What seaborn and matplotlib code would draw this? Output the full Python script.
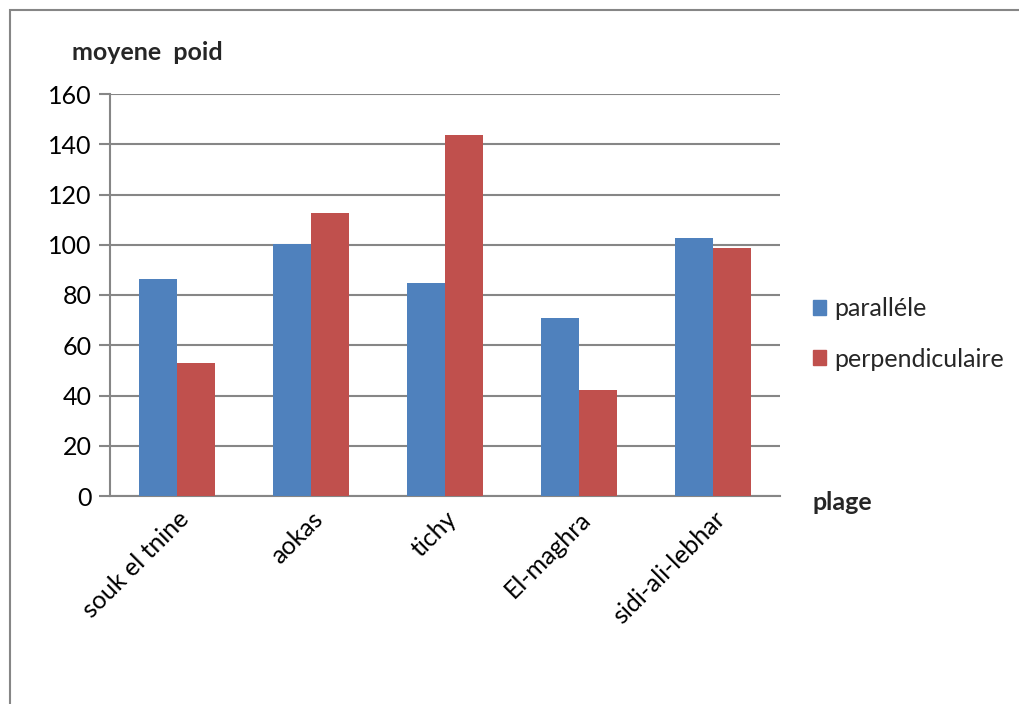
import matplotlib
matplotlib.use("Agg")
import matplotlib.pyplot as plt
import matplotlib.patches as mpatches
import seaborn as sns
import pandas as pd

plages = ["souk el tnine", "aokas", "tichy", "El-maghra", "sidi-ali-lebhar"]
parallele = [86.4, 100.2, 84.7, 70.8, 102.5]
perpendiculaire = [52.8, 112.6, 143.5, 42.0, 98.7]
series_names = ["paralléle", "perpendiculaire"]
y_ticks = [0, 20, 40, 60, 80, 100, 120, 140, 160]

df = pd.DataFrame({
    "plage": plages * 2,
    "serie": [series_names[0]] * len(plages) + [series_names[1]] * len(plages),
    "poid": parallele + perpendiculaire,
})

sns.set_theme(style="white")
plt.rcParams["font.family"] = ["Lato", "DejaVu Sans"]

grey = "#868686"
fs = 18
fig = plt.figure(figsize=(10.19, 7.04), dpi=100)
ax = fig.add_axes([110 / 1019, 1 - 496 / 704, 670 / 1019, 402 / 704])

sns.barplot(data=df, x="plage", y="poid", hue="serie", order=plages,
            hue_order=series_names, palette=["#4F81BD", "#C0504D"],
            width=0.57, saturation=1, ax=ax, legend=True, zorder=3)
for p in ax.patches:
    p.set_edgecolor("none")

ax.set_ylim(0, 160)
ax.set_yticks(y_ticks)
ax.set_xlim(-0.5, len(plages) - 0.5)
ax.yaxis.grid(True, color=grey, linewidth=1.5)
ax.set_axisbelow(True)
for side in ["top", "right"]:
    ax.spines[side].set_visible(False)
for side in ["left", "bottom"]:
    ax.spines[side].set_color(grey)
    ax.spines[side].set_linewidth(1.5)
ax.tick_params(axis="y", which="both", left=True, length=8, width=1.5,
               color=grey, labelsize=fs, pad=5, labelcolor="black")
ax.tick_params(axis="x", bottom=False, labelsize=fs, pad=2, labelcolor="black")
ax.set_xticks(range(len(plages)))
ax.set_xticklabels(plages, rotation=45, ha="right", rotation_mode="anchor")
ax.set_xlabel("")
ax.set_ylabel("")

fig.text(72 / 1019, 1 - 52 / 704, "moyene  poid", fontsize=fs, fontweight="bold",
         ha="left", va="center")
fig.text(812 / 1019, 1 - 502 / 704, "plage", fontsize=fs, fontweight="bold",
         ha="left", va="center")

handles = [mpatches.Patch(color=c, label=n)
           for c, n in zip(["#4F81BD", "#C0504D"], series_names)]
ax.legend(handles=handles, loc="center left", bbox_to_anchor=(790 / 1019, 1 - 334 / 704),
          bbox_transform=fig.transFigure, frameon=False, fontsize=fs,
          handlelength=0.55, handleheight=0.55, handletextpad=0.3,
          labelspacing=1.1)

# outer chart frame
fig.patches.append(mpatches.Rectangle((10 / 1019, -0.2), 2, 1.2 - 10 / 704,
                                      transform=fig.transFigure, fill=False,
                                      edgecolor=grey, linewidth=1.5))

fig.savefig("out.png", dpi=100)
